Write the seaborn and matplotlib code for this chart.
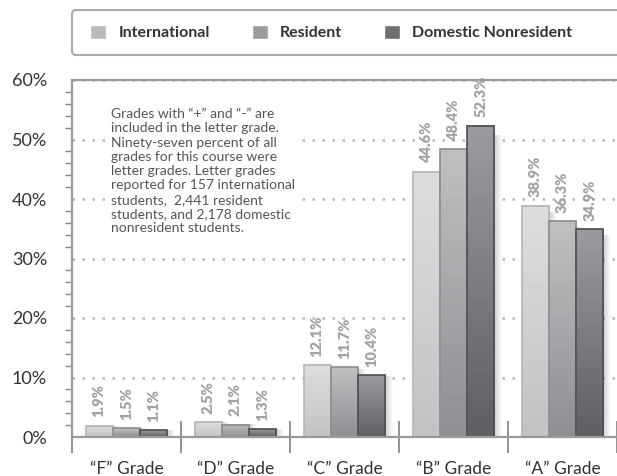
import numpy as np
import pandas as pd
import matplotlib.pyplot as plt
import matplotlib.ticker as mticker
from matplotlib.patches import Patch, FancyBboxPatch
from matplotlib.colors import to_rgb
import seaborn as sns

# Datos del grafico
categories = ["\u201cF\u201d Grade", "\u201cD\u201d Grade", "\u201cC\u201d Grade",
              "\u201cB\u201d Grade", "\u201cA\u201d Grade"]
groups = ["International", "Resident", "Domestic Nonresident"]
international = [1.9, 2.5, 12.1, 44.6, 38.9]
resident = [1.5, 2.1, 11.7, 48.4, 36.3]
domestic = [1.1, 1.3, 10.4, 52.3, 34.9]

note = ("Grades with \u201c+\u201d and \u201c-\u201d are\n"
        "included in the letter grade.\n"
        "Ninety-seven percent of all\n"
        "grades for this course were\n"
        "letter grades. Letter grades\n"
        "reported for 157 international\n"
        "students,  2,441 resident\n"
        "students, and 2,178 domestic\n"
        "nonresident students.")

# Colores
legend_colors = ["#b9babd", "#9b9b9e", "#6f6f72"]
top_colors = ["#dedee0", "#c0c0c3", "#9c9ca0"]
bottom_colors = ["#c3c3c5", "#8e8f92", "#5e5f63"]
edge_colors = ["#b4b4b6", "#8c8c8f", "#4e4e52"]

df = pd.DataFrame({
    "grade": categories * 3,
    "group": np.repeat(groups, len(categories)),
    "pct": international + resident + domestic,
})

sns.set_style("white")
plt.rcParams["font.family"] = ["Lato", "DejaVu Sans"]

fig = plt.figure(figsize=(6.17, 4.76), dpi=100)
ax = fig.add_axes([72 / 617, 1 - 437 / 476, 545 / 617, 357 / 476])

sns.barplot(data=df, x="grade", y="pct", hue="group", order=categories,
            hue_order=groups, palette=legend_colors, width=0.75, saturation=1,
            legend=False, ax=ax, zorder=3)

# Sombra suave a la derecha de cada barra
shadow = np.zeros((1, 50, 4))
shadow[..., :3] = 0.45
shadow[..., 3] = np.linspace(0.35, 0, 50)

# Degradado vertical en cada barra + etiquetas
for i, cont in enumerate(ax.containers):
    grad = np.linspace(to_rgb(top_colors[i]), to_rgb(bottom_colors[i]), 100)[:, None, :]
    for bar in cont:
        x0, w, h = bar.get_x(), bar.get_width(), bar.get_height()
        ax.imshow(shadow, extent=[x0 + w, x0 + w + 0.07, 0, h * 0.97],
                  aspect="auto", zorder=2.5, interpolation="bilinear")
        ax.imshow(grad, extent=[x0, x0 + w, 0, h], aspect="auto", zorder=3,
                  interpolation="bilinear")
        bar.set_facecolor("none")
        bar.set_edgecolor(edge_colors[i])
        bar.set_linewidth(1.2)
        bar.set_zorder(4)
        ax.annotate(f"{h:.1f}%", (x0 + w / 2, h), xytext=(0, 6),
                    textcoords="offset points", rotation=90, ha="center",
                    va="bottom", fontsize=10.5, fontweight="heavy",
                    color="#a2a2a4", annotation_clip=False)

ax.set_xlim(-0.5, 4.455)
ax.set_ylim(0, 60)
ax.set_xlabel("")
ax.set_ylabel("")

# Eje Y
ax.yaxis.set_major_locator(mticker.MultipleLocator(10))
ax.yaxis.set_minor_locator(mticker.MultipleLocator(2))
ax.yaxis.set_major_formatter(mticker.FormatStrFormatter("%d%%"))
ax.tick_params(axis="y", which="major", direction="inout", length=22, width=1.3,
               color="#8a8a8a", labelsize=13, labelcolor="#333333", pad=7)
ax.tick_params(axis="y", which="minor", direction="out", length=5, width=1,
               color="#8a8a8a", left=True)

# Eje X: separadores entre categorias
ax.set_xticks(range(len(categories)))
ax.set_xticks(np.arange(-0.5, len(categories), 1), minor=True)
ax.tick_params(axis="x", which="major", length=0, labelsize=12.5,
               labelcolor="#333333", pad=17)
ax.tick_params(axis="x", which="minor", direction="inout", length=23, width=1.3,
               color="#8a8a8a", bottom=True)

ax.yaxis.grid(True, linestyle=(0, (1, 3)), color="#b5b5b5", linewidth=1.8)
ax.set_axisbelow(True)
yticks = ax.yaxis.get_major_ticks()
yticks[0].gridline.set_visible(False)
yticks[-1].gridline.set_visible(False)
for side in ["left", "top", "bottom"]:
    ax.spines[side].set_visible(True)
    ax.spines[side].set_color("#9a9a9a")
    ax.spines[side].set_linewidth(1.6)
    ax.spines[side].set_zorder(10)
ax.spines["right"].set_visible(False)

ax.text(-0.14, 55.3, note, ha="left", va="top", fontsize=10,
        color="#555555", linespacing=1.23, zorder=3,
        bbox=dict(facecolor="white", edgecolor="none", pad=4))

# Leyenda en caja
box = FancyBboxPatch((0.72, (476 - 55) / 100), 7.0, 0.45,
                     boxstyle="round,pad=0,rounding_size=0.04",
                     transform=fig.dpi_scale_trans, facecolor="white",
                     edgecolor="#aaaaaa", linewidth=1.5)
fig.add_artist(box)
handles = [Patch(facecolor=c) for c in legend_colors]
fig.legend(handles, groups, loc="center left",
           bbox_to_anchor=(76 / 617, 1 - 32.5 / 476), ncol=3, frameon=False,
           prop=dict(weight="bold", size=11.5), handlelength=1.0,
           handleheight=1.0, handletextpad=0.75, columnspacing=2.65,
           labelcolor="#333333")

fig.savefig("out.png", dpi=100)
